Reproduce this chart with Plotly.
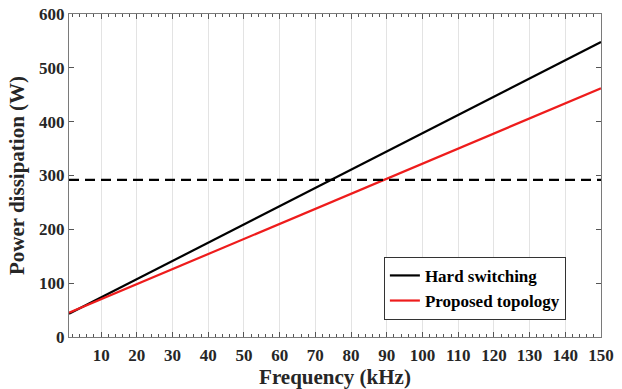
import plotly.graph_objects as go

freq = [1, 50, 100, 150]
hard_switching = [43, 209, 379, 548]
proposed_topology = [45, 182, 322, 462]
limit_x = [1, 150]
limit_y = [292, 292]
x_ticks = list(range(10, 151, 10))
y_ticks = [0, 100, 200, 300, 400, 500, 600]

font_family = "Liberation Serif"

fig = go.Figure()
fig.add_trace(go.Scatter(x=freq, y=hard_switching, mode="lines", name="Hard switching",
                         line=dict(color="black", width=2.2)))
fig.add_trace(go.Scatter(x=freq, y=proposed_topology, mode="lines", name="Proposed topology",
                         line=dict(color="#ee1c1c", width=2.2)))
fig.add_trace(go.Scatter(x=limit_x, y=limit_y, mode="lines", showlegend=False,
                         line=dict(color="black", width=2.2, dash="10px,6px")))

fig.update_layout(
    width=622, height=389,
    margin=dict(l=69, r=21, t=14, b=52, autoexpand=False),
    paper_bgcolor="white", plot_bgcolor="white",
    font=dict(family=font_family, color="#262626", size=17, weight="bold"),
    legend=dict(x=0.934, y=0.053, xanchor="right", yanchor="bottom",
                bgcolor="white", bordercolor="#333333", borderwidth=1,
                font=dict(family=font_family, size=17, color="black", weight="bold"),
                tracegroupgap=0, itemwidth=30),
    xaxis=dict(range=[1, 150], tickvals=x_ticks,
               tickfont=dict(family=font_family, size=17, weight="bold"),
               ticklabelstandoff=3,
               showgrid=True, gridcolor="#e3e3e3", gridwidth=1,
               showline=True, linecolor="#7a7a7a", linewidth=1, mirror="ticks",
               ticks="inside", ticklen=5, tickcolor="#555555",
               minor=dict(ticks="inside", dtick=2, tick0=0, ticklen=3, tickcolor="#555555", showgrid=False),
               zeroline=False, automargin=False,
               title=dict(text="Frequency (kHz)", font=dict(size=21, family=font_family, weight="bold"), standoff=4)),
    yaxis=dict(range=[0, 600], tickvals=y_ticks,
               tickfont=dict(family=font_family, size=17, weight="bold"),
               showgrid=False,
               showline=True, linecolor="#7a7a7a", linewidth=1, mirror="ticks",
               ticks="inside", ticklen=5, tickcolor="#555555",
               zeroline=False, automargin=False,
               title=dict(text="Power dissipation (W)", font=dict(size=21, family=font_family, weight="bold"), standoff=8)),
)

fig.write_html("out.html", config={"displayModeBar": False},
               post_script="document.body.style.margin='0';document.body.style.overflow='hidden';")
